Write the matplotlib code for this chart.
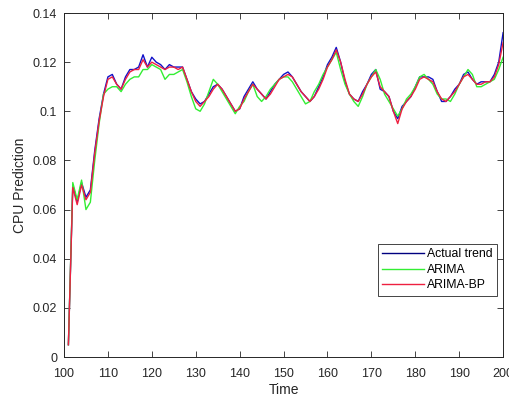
import numpy as np
import matplotlib
matplotlib.use('Agg')
import matplotlib.pyplot as plt

plt.rcParams['font.family'] = ['Liberation Sans', 'DejaVu Sans']

# time steps 101..200
time = list(range(101, 201))

actual = [0.005, 0.070, 0.063, 0.071, 0.065, 0.068, 0.084, 0.097, 0.107, 0.114,
          0.115, 0.111, 0.109, 0.114, 0.117, 0.117, 0.118, 0.123, 0.118, 0.122,
          0.120, 0.119, 0.117, 0.119, 0.118, 0.118, 0.118, 0.113, 0.108, 0.105,
          0.103, 0.104, 0.107, 0.110, 0.111, 0.109, 0.106, 0.103, 0.100, 0.101,
          0.106, 0.109, 0.112, 0.109, 0.107, 0.105, 0.108, 0.111, 0.113, 0.115,
          0.116, 0.114, 0.111, 0.108, 0.106, 0.104, 0.106, 0.110, 0.114, 0.119,
          0.122, 0.126, 0.120, 0.112, 0.107, 0.105, 0.104, 0.108, 0.111, 0.115,
          0.117, 0.109, 0.108, 0.106, 0.100, 0.097, 0.102, 0.104, 0.106, 0.110,
          0.114, 0.114, 0.114, 0.113, 0.108, 0.104, 0.104, 0.106, 0.109, 0.111,
          0.115, 0.116, 0.113, 0.111, 0.112, 0.112, 0.112, 0.115, 0.120, 0.132]

arima = [0.005, 0.071, 0.064, 0.072, 0.060, 0.063, 0.080, 0.095, 0.107, 0.109,
         0.110, 0.110, 0.108, 0.111, 0.113, 0.114, 0.114, 0.117, 0.117, 0.119,
         0.118, 0.117, 0.113, 0.115, 0.115, 0.116, 0.117, 0.112, 0.106, 0.101,
         0.100, 0.103, 0.108, 0.113, 0.111, 0.108, 0.105, 0.102, 0.099, 0.102,
         0.104, 0.108, 0.111, 0.106, 0.104, 0.106, 0.109, 0.111, 0.113, 0.114,
         0.114, 0.112, 0.109, 0.106, 0.103, 0.104, 0.108, 0.111, 0.115, 0.118,
         0.121, 0.124, 0.117, 0.111, 0.107, 0.104, 0.102, 0.106, 0.111, 0.114,
         0.117, 0.113, 0.107, 0.104, 0.101, 0.098, 0.101, 0.105, 0.107, 0.110,
         0.114, 0.115, 0.113, 0.111, 0.107, 0.105, 0.105, 0.104, 0.107, 0.111,
         0.114, 0.117, 0.115, 0.110, 0.110, 0.111, 0.112, 0.113, 0.117, 0.122]

arima_bp = [0.005, 0.069, 0.062, 0.070, 0.064, 0.067, 0.083, 0.096, 0.106, 0.113,
            0.114, 0.111, 0.109, 0.113, 0.116, 0.117, 0.117, 0.121, 0.118, 0.120,
            0.119, 0.118, 0.117, 0.118, 0.118, 0.117, 0.118, 0.113, 0.108, 0.104,
            0.102, 0.104, 0.106, 0.109, 0.111, 0.109, 0.106, 0.103, 0.100, 0.101,
            0.105, 0.108, 0.111, 0.109, 0.107, 0.105, 0.107, 0.110, 0.113, 0.114,
            0.115, 0.114, 0.111, 0.108, 0.106, 0.104, 0.106, 0.109, 0.113, 0.118,
            0.121, 0.125, 0.120, 0.113, 0.107, 0.105, 0.104, 0.107, 0.111, 0.114,
            0.116, 0.110, 0.108, 0.106, 0.100, 0.095, 0.101, 0.104, 0.106, 0.109,
            0.113, 0.114, 0.113, 0.112, 0.108, 0.105, 0.104, 0.106, 0.108, 0.111,
            0.114, 0.115, 0.113, 0.111, 0.111, 0.112, 0.112, 0.114, 0.119, 0.128]

xticks = [100, 110, 120, 130, 140, 150, 160, 170, 180, 190, 200]
yticks = [0, 0.02, 0.04, 0.06, 0.08, 0.1, 0.12, 0.14]
ytick_labels = ['0', '0.02', '0.04', '0.06', '0.08', '0.1', '0.12', '0.14']

fig = plt.figure(figsize=(5.1, 4.0), dpi=100)
ax = fig.add_axes([0.1255, 0.1075, 0.861, 0.86])

ax.plot(time, actual, color='#1010c8', lw=1.0, label='Actual trend')
ax.plot(time, arima, color='#33ee33', lw=1.0, label='ARIMA')
ax.plot(time, arima_bp, color='#ee2040', lw=1.0, label='ARIMA-BP')

ax.set_xlim(100, 200)
ax.set_ylim(0, 0.14)
ax.set_xticks(xticks)
ax.set_yticks(yticks)
ax.set_yticklabels(ytick_labels)
ax.tick_params(direction='in', top=True, right=True, labelsize=9,
               colors='#262626', length=4, width=0.6)
ax.tick_params(axis='x', pad=8)
ax.tick_params(axis='y', pad=5)
for s in ax.spines.values():
    s.set_color('#262626')
    s.set_linewidth(0.7)

ax.set_xlabel('Time', fontsize=10, color='#262626', labelpad=2)
ax.set_ylabel('CPU Prediction', fontsize=10, color='#262626', labelpad=4)

leg = ax.legend(loc='lower right', bbox_to_anchor=(0.985, 0.178), fontsize=8.8,
                fancybox=False, framealpha=1, edgecolor='#262626',
                handlelength=3.4, borderpad=0.35, labelspacing=0.3,
                handletextpad=0.25, borderaxespad=0)
leg.get_frame().set_linewidth(0.6)
for line in leg.get_lines():
    line.set_linewidth(1.0)
leg.get_lines()[0].set_color('#000080')

fig.savefig('out.png', dpi=100)
